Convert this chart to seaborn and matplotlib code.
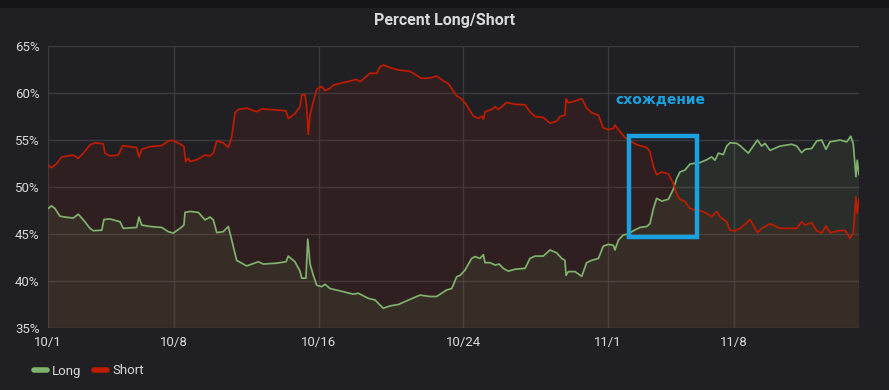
import numpy as np
import pandas as pd
import matplotlib
matplotlib.use("Agg")
import matplotlib.pyplot as plt
import matplotlib.dates as mdates
from matplotlib.lines import Line2D
from matplotlib.patches import Rectangle
import seaborn as sns

# ---------------- data (days since 10/1, percent) ----------------
short_days = [0.00, 0.20, 0.48, 0.76, 1.40, 1.68, 1.96, 2.33, 2.60, 3.06, 3.16, 3.43, 3.89, 4.14,
              4.91, 5.04, 5.19, 5.65, 6.30, 6.58, 6.85, 7.31, 7.53, 7.63, 7.77, 7.87, 8.24, 8.70,
              8.98, 9.16, 9.35, 9.71, 9.99, 10.18, 10.36, 10.54, 11.01, 11.56, 11.84, 12.67, 13.19,
              13.31, 13.68, 13.96, 14.06, 14.24, 14.33, 14.42, 14.52, 14.70, 14.89, 15.16, 15.35,
              15.62, 15.81, 16.55, 17.10, 17.29, 17.84, 18.21, 18.39, 18.58, 18.95, 19.41, 20.06,
              20.70, 21.16, 21.53, 21.90, 22.18, 22.64, 22.83, 23.01, 23.20, 23.29, 23.56, 23.84,
              24.03, 24.12, 24.21, 24.58, 24.77, 24.95, 25.41, 25.87, 26.43, 26.70, 26.98, 27.44,
              27.81, 28.18, 28.37, 28.64, 28.70, 28.83, 29.20, 29.57, 29.84, 30.12, 30.49, 30.76,
              31.04, 31.32, 31.41, 31.60, 31.97, 32.34, 32.62, 33.17, 33.35, 33.54, 33.72, 34.00,
              34.37, 34.64, 34.83, 35.01, 35.29, 35.57, 35.85, 36.12, 36.49, 36.77, 37.05, 37.23,
              37.60, 37.78, 38.06, 38.34, 38.71, 38.89, 39.07, 39.30, 39.54, 40.00, 40.55, 41.48,
              41.75, 41.94, 42.31, 42.59, 42.86, 43.10, 43.32, 43.88, 44.16, 44.43, 44.61, 44.76,
              44.83, 44.93]
short_pct = [52.34, 52.06, 52.5, 53.2, 53.4, 53.05, 53.6, 54.5, 54.7, 54.6, 53.6, 53.3, 53.4, 54.4,
             54.2, 53.2, 54.0, 54.3, 54.4, 54.8, 55.0, 54.6, 54.3, 52.7, 53.05, 52.7, 52.9, 53.4,
             53.3, 53.6, 54.9, 54.7, 54.2, 55.35, 57.9, 58.25, 58.4, 58.0, 58.3, 58.2, 58.1,
             57.3, 57.8, 58.55, 59.8, 59.85, 58.55, 55.6, 57.7, 59.1, 60.4, 60.7, 60.25,
             60.5, 60.85, 61.2, 61.45, 61.2, 62.1, 62.1, 62.8, 62.98, 62.7, 62.45, 62.3,
             61.55, 61.6, 61.8, 61.3, 61.0, 59.7, 59.5, 59.15, 58.7, 58.4, 57.55, 57.3,
             57.55, 57.2, 58.0, 58.25, 58.55, 58.25, 59.0, 58.8, 58.75, 58.0, 57.5, 57.4,
             56.8, 57.0, 57.5, 57.65, 59.4, 58.95, 59.15, 59.4, 58.4, 57.9, 57.65, 56.3,
             56.1, 56.25, 56.6, 56.1, 55.25, 54.8, 54.5, 54.2, 53.75, 52.2, 51.3, 51.6,
             51.4, 50.4, 49.3, 48.7, 48.45, 47.7, 47.55, 47.5, 47.2, 46.85, 47.4, 46.85,
             46.3, 45.4, 45.35, 45.6, 46.2, 46.55, 45.95, 45.15, 45.6, 46.1, 45.6, 45.6,
             46.3, 45.95, 46.2, 45.35, 45.1, 45.85, 45.15, 45.35, 45.4, 44.55, 45.1, 48.95,
             47.2, 48.7]

long_days = [0.00, 0.20, 0.39, 0.66, 0.94, 1.40, 1.68, 1.96, 2.33, 2.51, 2.98, 3.10, 3.43, 3.99,
             4.17, 4.91, 5.04, 5.19, 5.65, 6.30, 6.66, 6.94, 7.31, 7.53, 7.59, 7.87, 8.33, 8.70,
             8.98, 9.16, 9.35, 9.71, 9.99, 10.18, 10.45, 11.01, 11.65, 11.93, 12.67, 13.19, 13.31,
             13.68, 13.96, 14.06, 14.29, 14.39, 14.52, 14.70, 14.89, 15.16, 15.35, 15.62, 16.18,
             16.91, 17.19, 17.75, 18.12, 18.39, 18.58, 18.95, 19.41, 20.06, 20.61, 21.16, 21.53,
             22.09, 22.37, 22.64, 22.83, 23.10, 23.47, 23.66, 23.93, 24.12, 24.21, 24.49, 24.77,
             25.00, 25.22, 25.50, 25.87, 26.43, 26.70, 26.98, 27.44, 27.81, 28.18, 28.46, 28.64,
             28.70, 28.83, 29.20, 29.57, 29.84, 30.12, 30.49, 30.76, 31.04, 31.32, 31.41, 31.60,
             31.87, 32.15, 32.43, 32.80, 33.17, 33.35, 33.54, 33.72, 34.00, 34.37, 34.64, 34.83,
             35.01, 35.29, 35.57, 36.12, 36.49, 36.77, 36.95, 37.14, 37.41, 37.60, 37.78, 38.15,
             38.34, 38.80, 39.07, 39.30, 39.54, 39.72, 40.00, 40.55, 41.20, 41.48, 41.75, 41.94,
             42.31, 42.59, 42.86, 43.10, 43.32, 43.88, 44.25, 44.47, 44.61, 44.76, 44.83, 44.93]
long_pct = [47.7, 48.0, 47.7, 46.9, 46.8, 46.7, 47.1, 46.5, 45.6, 45.35, 45.4, 46.55, 46.6, 46.3,
            45.6, 45.7, 46.8, 45.95, 45.8, 45.7, 45.25, 45.1, 45.6, 45.95, 47.3, 47.4, 47.3, 46.5,
            46.8, 46.5, 45.15, 45.25, 45.8, 44.35, 42.2, 41.6, 42.05, 41.8, 41.9, 42.05, 42.65,
            42.05, 41.05, 40.3, 40.3, 44.45, 41.8, 40.6, 39.55, 39.4, 39.65, 39.2, 38.95,
            38.6, 38.7, 38.15, 37.98, 37.45, 37.1, 37.35, 37.5, 38.05, 38.5, 38.35, 38.35,
            39.05, 39.2, 40.45, 40.6, 41.15, 42.4, 42.6, 42.4, 42.8, 41.95, 41.95, 41.7,
            41.8, 41.35, 41.05, 41.25, 41.35, 42.4, 42.65, 42.65, 43.3, 43.0, 42.4, 42.2,
            40.6, 41.0, 41.0, 40.5, 41.95, 42.2, 42.4, 43.7, 43.9, 43.8, 43.3, 44.35,
            44.9, 45.0, 45.35, 45.7, 45.8, 46.1, 47.7, 48.8, 48.5, 48.7, 49.75, 50.9,
            51.6, 51.8, 52.45, 52.6, 52.9, 53.2, 52.85, 53.6, 53.45, 54.35, 54.7, 54.65,
            54.4, 53.6, 54.35, 55.0, 54.35, 54.65, 53.9, 54.35, 54.55, 54.35, 53.65, 54.0,
            54.1, 54.9, 55.0, 54.0, 54.8, 55.0, 54.8, 55.4, 54.65, 51.1, 52.85, 51.3]

tick_dates = ["2019-10-01", "2019-10-08", "2019-10-16", "2019-10-24", "2019-11-01", "2019-11-08"]
tick_labels = ["10/1", "10/8", "10/16", "10/24", "11/1", "11/8"]
y_ticks = [35, 40, 45, 50, 55, 60, 65]
y_labels = ["35%", "40%", "45%", "50%", "55%", "60%", "65%"]
series_names = ["Long", "Short"]
annotation_text = "схождение"
# highlighted convergence window (days) and value range
box_days = [32.19, 35.96]
box_pct = [44.68, 55.43]

# ---------------- styling ----------------
BG = "#202024"
GREEN = "#7eb26d"
RED = "#bf1b00"
BLUE = "#1aa1e0"
TXT = "#d8d9da"
GRID = "#3a3a3f"

start = pd.Timestamp("2019-10-01")
df_long = pd.DataFrame({"t": start + pd.to_timedelta(long_days, unit="D"), "v": long_pct, "s": "Long"})
df_short = pd.DataFrame({"t": start + pd.to_timedelta(short_days, unit="D"), "v": short_pct, "s": "Short"})
df = pd.concat([df_long, df_short], ignore_index=True)

sns.set_theme(style="dark")
plt.rcParams["font.family"] = ["Roboto", "DejaVu Sans"]

fig = plt.figure(figsize=(8.89, 3.90), dpi=100, facecolor=BG)
fig.patches.append(Rectangle((0, 1 - 8 / 390), 1, 8 / 390, transform=fig.transFigure,
                             facecolor="#141417", edgecolor="none", zorder=0))
ax = fig.add_axes([48 / 889, 1 - 328 / 390, (859 - 48) / 889, (328 - 46) / 390])
ax.set_facecolor(BG)

ax.fill_between(df_short["t"], short_pct, 0, color=RED, alpha=0.10, linewidth=0, zorder=1)
ax.fill_between(df_long["t"], long_pct, 0, color=GREEN, alpha=0.10, linewidth=0, zorder=1)

sns.lineplot(data=df, x="t", y="v", hue="s", palette={"Long": GREEN, "Short": RED},
             linewidth=1.25, ax=ax, legend=False, zorder=3)

ax.set_ylim(35, 65)
ax.set_xlim(start, start + pd.Timedelta(days=44.93))
ax.set_yticks(y_ticks)
ax.set_yticklabels(y_labels)
ax.set_xticks(pd.to_datetime(tick_dates))
ax.set_xticklabels(tick_labels)
ax.set_xlabel("")
ax.set_ylabel("")
ax.grid(True, color=GRID, linewidth=1.0)
ax.set_axisbelow(True)
for sp in ax.spines.values():
    sp.set_visible(False)
ax.tick_params(axis="both", colors=TXT, labelsize=9.5, length=0, pad=6)
for lab in ax.get_yticklabels() + ax.get_xticklabels():
    lab.set_color(TXT)

rx0 = mdates.date2num(start + pd.Timedelta(days=box_days[0]))
rx1 = mdates.date2num(start + pd.Timedelta(days=box_days[1]))
ax.add_patch(Rectangle((rx0, box_pct[0]), rx1 - rx0, box_pct[1] - box_pct[0],
                       fill=False, edgecolor=BLUE, linewidth=3.2, zorder=5))
ax.text(mdates.date2num(start + pd.Timedelta(days=33.95)), 59.25, annotation_text,
        color=BLUE, fontsize=10, fontweight="bold", ha="center", va="center",
        family=["DejaVu Sans"], zorder=6)

fig.text(0.5, 1 - 20 / 390, "Percent Long/Short", color=TXT, fontsize=11.5,
         fontweight="bold", ha="center", va="center")

handles = [Line2D([0], [0], color=GREEN, linewidth=4, solid_capstyle="round"),
           Line2D([0], [0], color=RED, linewidth=4, solid_capstyle="round")]
leg = fig.legend(handles, series_names, loc="center left", bbox_to_anchor=(22 / 889, 1 - 371 / 390),
                 ncol=2, frameon=False, handlelength=1.0, handletextpad=0.4, columnspacing=0.9,
                 fontsize=9.5)
for t in leg.get_texts():
    t.set_color(TXT)

fig.savefig("out.png", dpi=100, facecolor=fig.get_facecolor())
